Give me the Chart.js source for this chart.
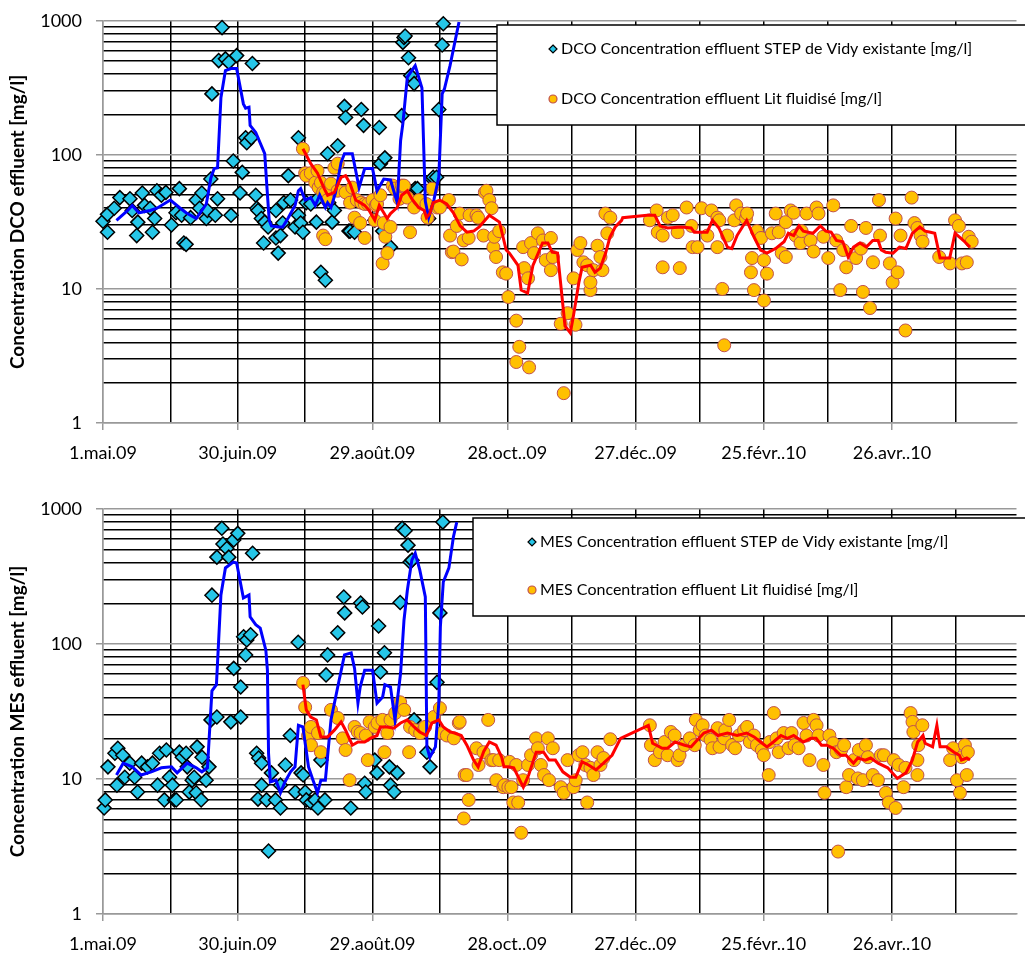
<!DOCTYPE html>
<html>
<head>
<meta charset="utf-8">
<script src="https://cdn.jsdelivr.net/npm/chart.js@4.4.0/dist/chart.umd.min.js"></script>
<style>
  html, body { margin: 0; padding: 0; background: #fff; overflow: hidden; }
  .wrap { position: relative; width: 1025px; }
  #dco-wrap { height: 474px; margin-top: -4px; }
  #mes-wrap { height: 484px; }
</style>
</head>
<body>
<div class="wrap" id="dco-wrap"><canvas id="dco"></canvas></div>
<div class="wrap" id="mes-wrap"><canvas id="mes"></canvas></div>
<script>
// x = days since 1 May 2009, y = concentration [mg/l]
const xTickDays = [0, 60, 120, 180, 240, 300, 360];
const xTickLabels = ['1.mai.09', '30.juin.09', '29.août.09', '28.oct..09', '27.déc..09', '25.févr..10', '26.avr..10'];
const yMajor = [1, 10, 100, 1000];

// DCO - STEP de Vidy existante (diamonds)
const dcoStep = [[0,32],[2,26.5],[2,36],[5,40],[7.5,48],[12,47],[13,38.5],[15,25],[15.5,31.5],[17.5,52],[18.5,42],[21,40],[22,26.5],[23,33.5],[24,54],[26,50],[28,52.5],[30.5,30],[32.5,37],[34,56],[35,35.5],[36,22],[37,21.5],[39,34],[41.5,46],[43,40],[44,52],[46,33.5],[46.5,38.5],[48,66],[48.5,285],[50,35.5],[51,47],[51.5,505],[53,890],[54.5,520],[56,490],[57,35.5],[58,90],[59.5,550],[61,52],[62,74],[63.5,134],[64,123],[66,134],[66.5,480],[68,50],[68.5,40],[69,38.5],[70.5,33.5],[71.5,22],[72,31.5],[73.5,29],[77,38.5],[77,24],[78,18.5],[79,25],[80,31],[80.5,44],[82.5,70],[83.5,46],[85.5,29],[87,35.5],[87,134],[88,31],[89,26.5],[90.5,44],[92.5,43],[95,31.5],[95.5,47],[97,13.3],[99,11.6],[100,102],[100.5,44],[102,31.5],[103,38.5],[104.5,117],[107.5,230],[108,190],[109.5,27],[110,27],[112,26.5],[115,218],[116,166],[121,32.5],[123,160],[123.5,86],[124.5,27],[125.5,95],[128,20.5],[133,196],[133.5,690],[134,750],[134.5,770],[136,530],[137,390],[138.5,340],[139,56],[140,56],[145,33.5],[146.5,66],[147,68],[148.5,68],[149.5,218],[151,660],[151.5,950]];

// DCO - moving average STEP (blue line)
const dcoStepAvg = [[6,32.5],[11,38.5],[13,42],[16,37],[21,38.5],[24,40],[30,46],[34,40.5],[37,37],[41.5,33.5],[46,43],[48,67],[49.5,79],[51,80],[52.5,267],[54.5,425],[57,440],[59.5,440],[62.5,240],[63.5,223],[65,227],[65.5,166],[68,147],[72,102],[73,57],[74,32.5],[75,29.5],[78,29],[80,29],[82.5,34],[85.5,42],[87,54],[88,56],[90,46],[92.5,48],[94.5,42],[96.5,50],[99,40.5],[100,44],[101.5,40.5],[103.5,52],[106,88],[107.5,102],[111,102],[114,57],[116.5,79],[120,79],[122,54],[125,66],[128,65],[131,44],[132.5,128],[133.5,171],[135.5,380],[139,463],[142,315],[143.5,45],[145,34],[147.3,46],[149.5,68],[151,285],[152,310],[154.5,463],[158.5,980]];

// DCO - Lit fluidisé (circles)
const dcoLit = [[89,111],[90,73],[90.5,70],[92.5,73],[94.5,62],[95.5,76],[96,57],[97,62],[98,52.5],[98,25],[99,52],[99,23.5],[100,46],[101.5,61],[103,80],[104.5,86],[104.5,54],[108,52.5],[110,44],[111,57],[112,34],[113,46],[114.5,31],[115,44],[116.5,24],[116.5,43],[118,43],[120,46],[121,32.5],[121.5,42],[122,43],[123.5,50],[124.5,15.5],[125,31],[125.7,24.5],[126.6,18.5],[128,29],[129,59],[130,56],[132,47],[133,59],[134,59],[135.5,48],[136.7,26.5],[138.5,40.5],[140.7,46],[144,43],[144.5,34],[146.5,56],[148.7,40.5],[150,40.5],[154,46],[154.5,25],[155.3,18.8],[156,19],[157.5,29.5],[158.8,36.5],[159.7,16.6],[160.6,23],[162.8,24],[163.2,35.5],[166.3,35.5],[167,34],[169.4,25],[170,52.5],[170.7,54],[172,46],[173,40],[173.8,20.5],[174.2,24.5],[175,17.3],[176.4,27],[178,13.3],[179.5,13],[180.5,8.7],[184.2,5.8],[184.2,2.85],[185.6,3.7],[187.4,20.5],[187.9,14.3],[189.7,12],[190.2,2.6],[191.1,22],[192.5,18.5],[194.3,26],[196.7,23],[198,16.4],[200.4,13.8],[200.4,24],[201.3,17.3],[205,5.5],[206.4,1.67],[208.2,6.6],[211,12],[211.9,5.4],[212.8,19.5],[214.2,22],[215.6,15.8],[217.4,15],[218.9,9.8],[218.9,11.2],[220.3,13.8],[222.2,21],[223.6,17.3],[224.5,13.8],[225.9,36.5],[226.8,26],[228.2,34],[246.7,32.5],[249.9,38.5],[250.4,26.5],[252.7,25],[252.7,14.5],[255.1,34],[257.4,35.5],[259.7,26.5],[260.7,14.3],[263.9,40.5],[266.2,29.5],[266.7,20.5],[269,20.5],[270.9,40],[273.6,25],[275.5,38.5],[278.3,34],[278.3,20.5],[279.2,32.5],[280.6,10],[281.5,3.8],[282.9,25],[286.2,32.5],[287.1,42],[289.4,36.5],[291.7,33.5],[292.2,36.5],[294,13.3],[294.5,17],[295.4,9.8],[296.8,27],[298.7,24],[300.1,8.2],[300.1,16.4],[301.5,13],[303.8,26],[305.6,36.5],[307,26.5],[308.4,18.5],[310.3,17.3],[310.3,31.5],[312.6,38.5],[314,37],[314.9,25],[317.2,22],[317.7,27],[320,36.5],[321.9,23],[323.3,19],[324.7,40.5],[325.6,36.5],[327.9,24.5],[330.2,17],[332.5,42],[333.9,23],[335.8,9.8],[337.2,19.5],[338.6,14.5],[340.9,29.5],[343.2,17],[345.5,20],[346.4,9.5],[347.8,28.5],[349.7,7.2],[351.1,15.8],[353.9,46],[354.4,25],[359,15.5],[360.3,11.2],[361.7,33.5],[362.6,13.3],[364,25],[366.3,4.9],[369.2,48],[370.5,31],[371.9,28.5],[373.4,25],[374.3,22.5],[382.1,17.3],[387.2,15.5],[389.5,32.5],[391.3,29.5],[392.7,15.5],[395,15.8],[395.9,24.5],[397.3,22.5]];

// DCO - moving average Lit fluidisé (red line)
const dcoLitAvg = [[89,111],[92.5,86],[95.5,73],[98.5,56],[100,50],[103,52.5],[106,68],[108,70],[110,61],[112.5,46],[114.5,44],[116.5,42],[118.5,38.5],[121,32.5],[123,42],[125,37],[126.5,33.5],[128,36.5],[131,40.5],[133,50],[135.5,54],[137.5,47],[140.5,40.5],[143,38.5],[144,34],[145.5,36.5],[147,44],[150,46],[153,43],[156,37],[159,29.5],[162,26.5],[165,27],[167.5,29],[172,35.5],[176.5,31.5],[179.5,19.5],[181,18.5],[185,15],[186.5,9.8],[189.5,9.3],[192,15],[196.5,22],[199,22],[201,18.8],[203.5,18.5],[207,5.3],[209.5,4.7],[211,6.4],[213.5,11.2],[215,14.5],[219,15],[221,13.3],[223.5,14.3],[226,18.5],[228,24.3],[230.5,29],[233.5,32.5],[234,34],[245.5,35.5],[249,35.5],[251.5,29.5],[255,28.5],[261.5,29],[266,28.5],[267.5,26.5],[273.5,26.5],[276,32.5],[279,28.5],[283,20.5],[285,20],[287.5,25],[290,29],[292,32.5],[295.5,24.3],[298.5,19.5],[301.5,18.5],[305.5,20],[309.5,22.5],[311.5,26],[314,25],[316.5,29.5],[318.5,27],[323,26],[326.5,29.5],[329,27],[331.5,26.5],[334,23],[337,22.5],[339.5,17.3],[342,20.5],[345,22],[348,20.5],[351,23],[353.5,23],[355,19.5],[357,18.8],[360.5,18.5],[363.5,20.5],[366.5,20],[369.5,26],[373,29],[375.5,27],[378,26.5],[380,26],[382.5,17],[387,17],[389.5,26],[392,24],[394,22.5],[396.5,20.5]];

// MES - STEP de Vidy existante (diamonds)
const mesStep = [[0.5,6.1],[1,7],[2.2,12.3],[5.3,15.5],[6.2,9],[6.6,16.9],[8.8,15],[9.7,10.3],[11.9,13.1],[14.1,10.3],[15.4,8],[17.2,13.1],[19.8,12.3],[22,13.1],[24.3,9],[25.2,15.5],[27.3,7],[28.2,16.4],[29.6,10.3],[30.9,9],[31.8,7],[32.6,7],[34,15.8],[35.3,14.5],[37,15.5],[37.5,12.3],[38.4,8],[39.7,9.8],[40.6,10.3],[41.5,7.9],[41.9,17.3],[43.7,7],[44.1,14.5],[45.9,9.8],[47.2,12.3],[48.1,27.4],[48.5,230],[50.7,28.8],[50.7,440],[52.9,720],[53.4,550],[55.1,510],[56,440],[56.9,26.5],[58.2,590],[58.2,66],[60,660],[61.3,28.8],[61.3,48],[62.6,113],[63.5,83],[64,107],[65.7,117],[66.6,470],[68.4,15.5],[69,7.1],[69.3,14.3],[70.6,13.1],[70.6,9],[72.8,7],[73.7,2.93],[75,11.1],[76.8,7],[79,6.1],[79,9],[81.2,12.7],[83.4,21],[85.6,8],[86.9,103],[88.2,11.1],[89.1,10.7],[90,8],[90.5,7],[92.6,6.7],[94.4,7],[95.7,6.1],[97,13.8],[98.8,7],[99.3,59],[100,83],[104.5,121],[107.2,223],[107.6,170],[110.3,6.1],[114.7,201],[115.5,188],[116.5,9.3],[117,8],[121,13.8],[122,11.1],[122.7,136],[123.5,62],[125.3,86],[127.5,12.3],[128,9],[129.6,8],[131,11.1],[132.3,203],[133.2,720],[134.5,690],[135.8,540],[136.7,405],[137.6,418],[138.5,27.4],[144.2,15.8],[145.6,12.3],[148.7,52],[150,170],[151.3,800]];

// MES - moving average STEP (blue line)
const mesStepAvg = [[6,10.7],[9,13.1],[13,12.3],[17,10.7],[21.5,11.3],[26,12.1],[30.5,12.3],[33,11.1],[37.5,13.1],[41.5,12.1],[44,11.3],[46.5,12.1],[48.5,45],[50.5,50],[52.5,231],[54.5,366],[58,404],[59.5,398],[62.5,219],[65,231],[65.5,159],[68,139],[70,131],[72.5,90],[73.2,64],[73.7,15.5],[74.5,9.5],[77,9.8],[79,7.9],[81,9.5],[83.5,11.3],[85.5,12.3],[87,25],[89,24.3],[91.5,12.3],[93.5,9.8],[95.5,7.9],[97,9.8],[99,9.8],[101.5,27.4],[104.5,48],[107.5,83],[110.5,86],[112,66],[113.5,36.5],[114.5,48],[116.5,64],[120,64],[122,36.5],[124.5,40.5],[125.5,50],[128,48],[130,27.4],[132.5,61],[134,150],[135.5,250],[137.5,418],[139,470],[141,355],[143.5,223],[144.2,17.3],[145.5,14.5],[148,17.3],[149.5,36.5],[150.2,134],[151.5,288],[154,366],[156,620],[157.5,800]];

// MES - Lit fluidisé (circles)
const mesLit = [[89.1,51.5],[90,34],[91.3,21],[92.6,24.3],[92.6,17.8],[95.7,21.9],[97,15.8],[101.5,32.5],[104.5,28.3],[106.7,20],[108,16.4],[109.8,9.8],[112,24.3],[113.4,22.3],[114.7,21.9],[117,21],[117.9,13.8],[118.7,26.5],[121,24.3],[122.2,26],[124.4,27.4],[125.3,15.8],[126.6,21.9],[128,27.4],[130.1,30.8],[132.3,37],[134.1,32.5],[136.3,15.8],[136.7,24.3],[139,23],[141.2,21.9],[143.4,24.3],[147.3,28.8],[150,33.5],[150.9,21.9],[153.1,21],[156.2,20],[158.4,26],[158.8,26.5],[160.6,5.1],[161,10.7],[161.9,10.7],[162.8,7],[166.3,16.9],[167.2,12.7],[169.4,15.8],[171.5,27.4],[172.9,13.8],[173.8,13.8],[175.1,9.8],[176.4,13.8],[178.2,8.7],[178.7,9],[180.5,8.7],[181,13.4],[181.9,8.7],[182.8,6.7],[184.2,12.7],[185.1,6.7],[186.5,4],[187.4,9.8],[189.7,12.7],[191.1,15],[193.4,20],[194.3,16.9],[195.7,12.7],[197.2,10.7],[199,20],[199.5,9.8],[201.3,16.9],[205,8.7],[206.4,7.9],[208.2,13.8],[211,8.7],[212,9.8],[213.4,15],[215.2,15.8],[216.5,12.7],[217.4,6.7],[218.9,12.1],[220.3,10.7],[222.2,15.8],[223.6,12.7],[225,14.3],[228.2,19.7],[246.7,25],[247.2,17.8],[249,13.8],[251.4,15.8],[253.6,18.8],[255,15],[256.5,22.3],[258.3,21],[259.7,13.8],[260.6,15],[262.9,17.8],[265.4,20],[267.7,17.8],[268.2,27.4],[270,23],[271.4,25],[272.8,21],[275.1,19.5],[276,16.9],[278.4,23.8],[279.3,17.3],[281.5,20],[282,23],[283.8,27.4],[285.2,17.8],[286.6,16.9],[288.4,21],[290.8,23],[292.2,24.3],[293.5,18.8],[295.4,21],[296.8,17.8],[299.1,16.4],[300,15],[302.3,10.7],[302.8,18.8],[304.7,30.8],[306,20],[307,15.8],[309.3,21.9],[311.6,16.9],[313,21.9],[314.4,17.8],[316.3,16.9],[318.6,26],[320,21],[321.4,13.8],[323.3,27.4],[324.7,25],[325.6,21],[327.9,12.7],[328.4,7.9],[330.7,21],[332.5,18.4],[334,15.8],[334.8,2.9],[336.2,16.4],[337.6,17.8],[338.6,8.7],[339.9,10.7],[342.2,13.8],[344,10.1],[344.5,16.4],[346.4,9.8],[347.8,17.8],[348.7,14.5],[351,10.7],[353.4,9.8],[354.8,15],[356.2,15],[357.1,7.9],[358.5,6.7],[360.8,13.8],[361.7,6.1],[363.1,12.7],[365.4,8.7],[366.3,12.1],[368.7,30.8],[369.6,26.5],[370,22.3],[371.9,13.8],[371.9,10.7],[372.3,17.8],[374.2,25],[387.2,13.8],[388.6,16.9],[390.4,9.8],[391.8,7.9],[392.7,14.5],[394.1,17.8],[395,10.7],[395.5,15.8]];

// MES - moving average Lit fluidisé (red line)
const mesLitAvg = [[89,50],[90.5,32.5],[92.5,28.8],[95,27.4],[97,20.5],[100,20.5],[103,23],[106,26.5],[108,23],[111,17.8],[113.5,18.8],[116.5,18.8],[119,20],[122,21],[123.5,24.3],[126.5,24.3],[129.5,23.8],[132.5,26],[135.5,27.4],[138.5,24.3],[141,22.3],[144,21],[146.5,26],[149.5,27.4],[151.5,24.3],[154.5,22.3],[156.5,21.9],[159.5,21],[162,17.8],[165,13.8],[167,12.3],[169.5,16],[172,18.8],[175,17.8],[177.5,14.5],[178.5,12.3],[180.5,12.3],[183,12.1],[187.5,8.7],[190,10.7],[193.5,15.8],[197,15.8],[199.5,13.8],[202.5,13.8],[206,11.3],[209.5,10.3],[212,10.3],[215,13.4],[218,12.7],[221.5,11.7],[225,13.1],[229,15],[233,20],[246,25],[248,18.4],[252.5,16.9],[255,16.9],[258.5,18.8],[263,17.8],[266,17.3],[269,19.5],[272,21.9],[275.5,23],[278.5,21],[283,21.9],[287.5,21],[292,21.9],[295.5,20.5],[298.5,18.8],[301.5,17.3],[304.5,18.8],[308,21],[311,20],[314,21],[318.5,18.8],[322,20],[324.5,20],[327,17.8],[329.5,17.8],[332.5,16.9],[336,15],[338.5,15],[342,13.1],[344,14.3],[347.5,13.8],[350,14.3],[353.5,13.1],[358,12.1],[362.5,10.1],[366.5,11.1],[369.5,13.8],[372,18.8],[374.5,21],[375.5,18.4],[379,17.3],[381,25],[382.5,17.3],[385.5,17.3],[389,15.8],[391.5,15],[392.5,13.8],[395,14.3],[396.5,13.8]];

const CYAN = '#26C6E8';
const GOLD = '#FFC000';
const GOLD_EDGE = '#C0504D';
const GRAY = '#999999';

Chart.defaults.font.family = 'Lato, "DejaVu Sans", sans-serif';
Chart.defaults.color = '#000';

// The printed date axis is not quite uniform: the first 180 days get a bit
// more room than the rest. This scale reproduces that by squeezing days > 180.
const SQUEEZE = 0.9515;
const warp = d => (d <= 180 ? d : 180 + (d - 180) * SQUEEZE);
const unwarp = w => (w <= 180 ? w : 180 + (w - 180) / SQUEEZE);

class DayScale extends Chart.LinearScale {
    getPixelForValue(value) {
        return super.getPixelForValue(warp(value));
    }
    getValueForPixel(pixel) {
        return unwarp(super.getValueForPixel(pixel));
    }
}
DayScale.id = 'days';
Chart.register(DayScale);

// vertical grid every 30 days, horizontal grid at 1..9 x 10^n
const gridDays = [];
for (let d = 0; d <= 390; d += 30) gridDays.push(d);
const yTicks = [];
yMajor.forEach((v, i) => {
    yTicks.push(v);
    if (i < yMajor.length - 1) {
        for (let m = 2; m <= 9; m++) yTicks.push(v * m);
    }
});

const toXY = arr => arr.map(([x, y]) => ({ x, y }));

// Excel-like legend box drawn on top of the plot
const legendBox = {
    id: 'legendBox',
    afterDraw(chart, args, opts) {
        const ctx = chart.ctx;
        ctx.save();
        ctx.fillStyle = '#fff';
        ctx.fillRect(opts.x, opts.y, opts.w, opts.h);
        ctx.strokeStyle = '#000';
        ctx.lineWidth = 1.5;
        ctx.strokeRect(opts.x, opts.y, opts.w, opts.h);
        ctx.font = opts.font;
        ctx.textBaseline = 'middle';
        opts.rows.forEach(row => {
            const mx = opts.markerX, my = row.y;
            ctx.beginPath();
            if (row.marker === 'diamond') {
                ctx.moveTo(mx, my - 4);
                ctx.lineTo(mx + 4, my);
                ctx.lineTo(mx, my + 4);
                ctx.lineTo(mx - 4, my);
                ctx.closePath();
                ctx.fillStyle = CYAN;
                ctx.strokeStyle = '#000';
            } else {
                ctx.arc(mx, my, 4, 0, Math.PI * 2);
                ctx.fillStyle = GOLD;
                ctx.strokeStyle = GOLD_EDGE;
            }
            ctx.lineWidth = 1.2;
            ctx.fill();
            ctx.stroke();
            ctx.fillStyle = '#000';
            ctx.fillText(chart.data.datasets[row.dataset].label, mx + 8, my);
        });
        ctx.restore();
    }
};

function makeChart(id, c) {
    return new Chart(document.getElementById(id).getContext('2d'), {
        type: 'scatter',
        data: {
            datasets: [
                {
                    label: c.name + ' moyenne Lit fluidisé',
                    data: toXY(c.litAvg),
                    showLine: true,
                    borderColor: '#FF0000',
                    borderWidth: 3,
                    pointRadius: 0,
                    tension: 0
                },
                {
                    label: c.name + ' moyenne STEP de Vidy',
                    data: toXY(c.stepAvg),
                    showLine: true,
                    borderColor: '#0000FF',
                    borderWidth: 3,
                    pointRadius: 0,
                    tension: 0
                },
                {
                    label: c.name + ' Concentration effluent Lit fluidisé [mg/l]',
                    data: toXY(c.lit),
                    pointStyle: 'circle',
                    pointRadius: 6.5,
                    backgroundColor: GOLD,
                    borderColor: GOLD_EDGE,
                    borderWidth: 1,
                    clip: false
                },
                {
                    label: c.name + ' Concentration effluent STEP de Vidy existante [mg/l]',
                    data: toXY(c.step),
                    pointStyle: 'rectRot',
                    pointRadius: 7,
                    backgroundColor: CYAN,
                    borderColor: '#000',
                    borderWidth: 1.5,
                    clip: false
                }
            ]
        },
        options: {
            responsive: true,
            maintainAspectRatio: false,
            animation: false,
            layout: { padding: { top: c.padTop, left: 0, right: 0, bottom: 0 } },
            plugins: {
                legend: { display: false },
                tooltip: { enabled: false },
                legendBox: c.legend
            },
            scales: {
                x: {
                    type: 'days',
                    min: 0,
                    max: 406.7, // right edge of the picture, in squeezed days
                    afterBuildTicks: axis => { axis.ticks = gridDays.map(v => ({ value: v })); },
                    afterFit: axis => { axis.height = c.xAxisHeight; },
                    ticks: {
                        autoSkip: false,
                        maxRotation: 0,
                        padding: 12,
                        font: { size: 18 },
                        callback: v => {
                            const i = xTickDays.indexOf(v);
                            return i >= 0 ? xTickLabels[i] : '';
                        }
                    },
                    grid: {
                        lineWidth: 1.5,
                        tickLength: 7,
                        color: ctx => (ctx.tick && ctx.tick.value === 0 ? GRAY : '#000'),
                        tickColor: ctx => (ctx.tick && xTickDays.includes(ctx.tick.value) ? GRAY : 'rgba(0,0,0,0)')
                    },
                    border: { color: GRAY, width: 1.5 }
                },
                y: {
                    type: 'logarithmic',
                    min: 1,
                    max: 1000,
                    afterBuildTicks: axis => { axis.ticks = yTicks.map(v => ({ value: v })); },
                    afterFit: axis => { axis.width = 103; },
                    title: {
                        display: true,
                        text: c.yTitle,
                        font: { size: 19, weight: 'bold' },
                        padding: { top: 6, bottom: 0 }
                    },
                    ticks: {
                        autoSkip: false,
                        padding: 14,
                        font: { size: 18 },
                        callback: v => (yMajor.includes(v) ? String(v) : '')
                    },
                    grid: {
                        lineWidth: 1.5,
                        tickLength: 7,
                        color: ctx => (ctx.tick && yMajor.includes(ctx.tick.value) ? GRAY : '#000'),
                        tickColor: ctx => (ctx.tick && yMajor.includes(ctx.tick.value) ? GRAY : 'rgba(0,0,0,0)')
                    },
                    border: { color: GRAY, width: 1.5 }
                }
            }
        },
        plugins: [legendBox]
    });
}

// Create DCO chart
const dcoChart = makeChart('dco', {
    name: 'DCO',
    step: dcoStep,
    stepAvg: dcoStepAvg,
    lit: dcoLit,
    litAvg: dcoLitAvg,
    yTitle: 'Concentration DCO effluent [mg/l]',
    padTop: 15,
    xAxisHeight: 47,
    legend: {
        x: 497, y: 29, w: 540, h: 100,
        markerX: 553,
        font: '16px Lato, "DejaVu Sans", sans-serif',
        rows: [
            { y: 53, marker: 'diamond', dataset: 3 },
            { y: 103, marker: 'circle', dataset: 2 }
        ]
    }
});

// Create MES chart
const mesChart = makeChart('mes', {
    name: 'MES',
    step: mesStep,
    stepAvg: mesStepAvg,
    lit: mesLit,
    litAvg: mesLitAvg,
    yTitle: 'Concentration MES effluent [mg/l]',
    padTop: 39,
    xAxisHeight: 40,
    legend: {
        x: 473, y: 48, w: 560, h: 98,
        markerX: 532,
        font: '16px Lato, "DejaVu Sans", sans-serif',
        rows: [
            { y: 72, marker: 'diamond', dataset: 3 },
            { y: 120, marker: 'circle', dataset: 2 }
        ]
    }
});
</script>
</body>
</html>
